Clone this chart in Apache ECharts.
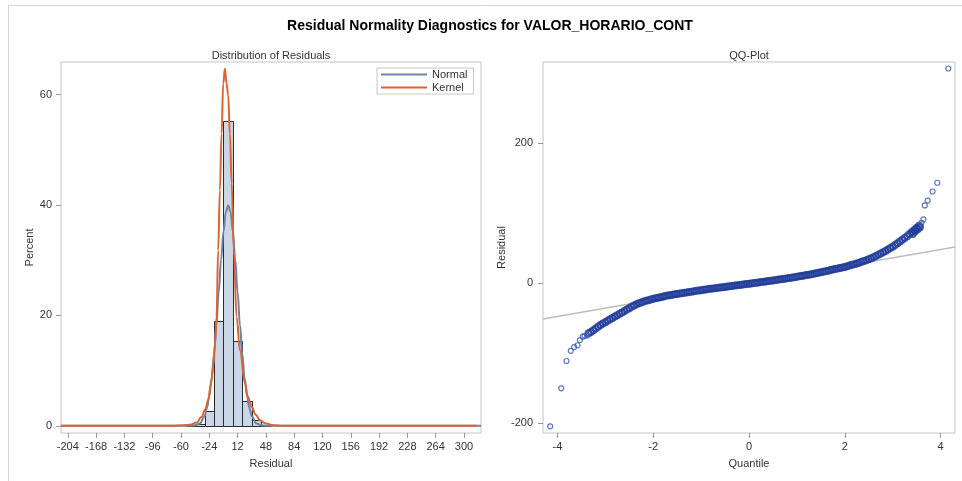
<!DOCTYPE html>
<html>
<head>
<meta charset="utf-8">
<script src="https://cdn.jsdelivr.net/npm/echarts@6/dist/echarts.min.js"></script>
<style>html,body{margin:0;padding:0;background:#fff}#c{width:962px;height:481px}</style>
</head>
<body>
<div id="c"></div>
<script>
// ---------- data ----------
var mainTitle = 'Residual Normality Diagnostics for VALOR_HORARIO_CONT';
var leftTitle = 'Distribution of Residuals';
var rightTitle = 'QQ-Plot';

// histogram (bin midpoints, percent), bin width 12
var binWidth = 12;
var binMid = [-48, -36, -24, -12, 0, 12, 24, 36, 48];
var binPct = [0.1, 0.4, 2.6, 19.0, 55.2, 15.4, 4.5, 1.0, 0.1];

// fitted normal curve
var normX = [-212.7, -60, -54, -48, -42, -36, -30, -27, -24, -21, -18, -15, -12, -9, -6, -3, 0, 3, 6, 9, 12, 15, 18, 21, 24, 27, 30, 36, 42, 48, 54, 60, 321.7];
var normY = [0, 0, 0, 0.01, 0.09, 0.44, 1.75, 3.2, 5.4, 8.6, 13.0, 18.3, 24.2, 30.1, 35.2, 38.7, 39.9, 38.7, 35.2, 30.1, 24.2, 18.3, 13.0, 8.6, 5.4, 3.2, 1.75, 0.44, 0.09, 0.01, 0, 0, 0];

// kernel density curve
var kernX = [-212.7, -70, -58, -48.6, -40, -34, -29, -25.5, -22, -19.1, -16.5, -14.8, -12.7, -10.5, -8.4, -6.3, -4.2, -2.0, 0.0, 2.2, 4.4, 7.3, 10.7, 15, 21.4, 25, 29.9, 35, 40.5, 48, 57.5, 70, 316];
var kernY = [0, 0.02, 0.1, 0.2, 0.6, 1.6, 3.0, 4.7, 7.5, 10.7, 15.0, 19.7, 31.8, 42.7, 52.9, 62.0, 64.7, 62.0, 59.9, 52.9, 43.9, 31.8, 19.7, 13.7, 7.7, 5.3, 3.4, 2.0, 1.0, 0.4, 0.1, 0.02, 0];

var histXTicks = [-204, -168, -132, -96, -60, -24, 12, 48, 84, 120, 156, 192, 228, 264, 300];
var histYTicks = [0, 20, 40, 60];

// QQ plot: sparse tail points (normal quantile, residual)
var qqTailQuantile = [-4.15, -3.92, -3.81, -3.72, -3.65, -3.58, -3.53, -3.47, -3.43, -3.38,
                      3.60, 3.64, 3.67, 3.73, 3.83, 3.93, 4.16];
var qqTailResidual = [-205, -150.7, -111.6, -97, -91.6, -89, -81.6, -76.8, -75.5, -75,
                      86, 91, 111, 118, 131, 143.5, 307];
// QQ plot: dense central band (normal quantile, residual)
var qqQuantile = [
 -3.35, -3.30, -3.25, -3.20, -3.15, -3.10, -3.05, -3.00, -2.95, -2.90,
 -2.85, -2.80, -2.75, -2.70, -2.65, -2.60, -2.55, -2.50, -2.45, -2.40,
 -2.35, -2.30, -2.25, -2.20, -2.15, -2.10, -2.05, -2.00, -1.95, -1.90,
 -1.85, -1.80, -1.75, -1.70, -1.65, -1.60, -1.55, -1.50, -1.45, -1.40,
 -1.35, -1.30, -1.25, -1.20, -1.15, -1.10, -1.05, -1.00, -0.95, -0.90,
 -0.85, -0.80, -0.75, -0.70, -0.65, -0.60, -0.55, -0.50, -0.45, -0.40,
 -0.35, -0.30, -0.25, -0.20, -0.15, -0.10, -0.05, 0.00, 0.05, 0.10,
 0.15, 0.20, 0.25, 0.30, 0.35, 0.40, 0.45, 0.50, 0.55, 0.60,
 0.65, 0.70, 0.75, 0.80, 0.85, 0.90, 0.95, 1.00, 1.05, 1.10,
 1.15, 1.20, 1.25, 1.30, 1.35, 1.40, 1.45, 1.50, 1.55, 1.60,
 1.65, 1.70, 1.75, 1.80, 1.85, 1.90, 1.95, 2.00, 2.05, 2.10,
 2.15, 2.20, 2.25, 2.30, 2.35, 2.40, 2.45, 2.50, 2.55, 2.60,
 2.65, 2.70, 2.75, 2.80, 2.85, 2.90, 2.95, 3.00, 3.05, 3.10,
 3.15, 3.20, 3.25, 3.30, 3.35, 3.40, 3.42, 3.45, 3.47, 3.50,
 3.52, 3.55, 3.57
];
var qqResidual = [
 -72, -70, -67.5, -65, -62.5, -60, -58, -56, -54, -52,
 -50, -48, -46, -44, -42, -40, -38, -36, -34, -32,
 -30.5, -29, -27.7, -26.5, -25.5, -24.5, -23.5, -22.5, -21.7, -21,
 -20.2, -19.5, -18.7, -18, -17.4, -16.8, -16.2, -15.6, -15, -14.5,
 -13.9, -13.4, -12.8, -12.3, -11.7, -11.2, -10.7, -10.2, -9.7, -9.2,
 -8.7, -8.2, -7.7, -7.3, -6.8, -6.4, -5.9, -5.5, -5, -4.6,
 -4.1, -3.7, -3.2, -2.8, -2.3, -1.9, -1.4, -1, -0.5, 0,
 0.5, 0.9, 1.4, 1.9, 2.3, 2.8, 3.3, 3.8, 4.3, 4.8,
 5.3, 5.8, 6.3, 6.8, 7.3, 7.9, 8.4, 9, 9.6, 10.2,
 10.8, 11.4, 12, 12.7, 13.4, 14.1, 14.8, 15.5, 16.2, 17,
 17.7, 18.5, 19.2, 20, 20.7, 21.5, 22.2, 23, 24, 25,
 26, 27, 28.1, 29.2, 30.3, 31.5, 32.7, 34, 35.5, 37,
 38.7, 40.5, 42.2, 44, 46, 48, 50, 52, 54.5, 57,
 59.5, 62, 64.5, 67, 70, 73, 70, 76, 74, 79,
 77, 82, 80
];
// reference line endpoints
var qqLineX = [-4.3, 4.3];
var qqLineY = [-51.5, 51.5];
var qqXTicks = [-4, -2, 0, 2, 4];
var qqYTicks = [-200, 0, 200];

// ---------- build ----------
function zip(a, b) { var r = []; for (var i = 0; i < a.length; i++) r.push([a[i], b[i]]); return r; }
var FONT = 'Liberation Sans, Arial, sans-serif';
var lblStyle = { fontSize: 11, color: '#333', fontFamily: FONT };
var nameStyle = { fontSize: 11, color: '#333', fontFamily: FONT };

function valAxis(opt) {
  return Object.assign({
    type: 'value',
    axisLine: { show: false, onZero: false },
    splitLine: { show: false },
    axisTick: { show: true, length: 5, lineStyle: { color: '#999' }, customValues: opt.ticks },
    axisLabel: Object.assign({ margin: opt.margin, customValues: opt.ticks }, lblStyle),
    nameTextStyle: nameStyle,
    nameLocation: 'middle'
  }, opt.extra);
}

var chart = echarts.init(document.getElementById('c'), null, { renderer: 'canvas' });
chart.setOption({
  backgroundColor: '#fff',
  animation: false,
  title: [
    { text: mainTitle, left: 490, top: 19, textAlign: 'center', padding: 0,
      textStyle: { fontSize: 14, fontWeight: 'bold', color: '#000', fontFamily: FONT } },
    { text: leftTitle, left: 271, top: 50, textAlign: 'center', padding: 0,
      textStyle: { fontSize: 11, fontWeight: 'normal', color: '#333', fontFamily: FONT } },
    { text: rightTitle, left: 749, top: 50, textAlign: 'center', padding: 0,
      textStyle: { fontSize: 11, fontWeight: 'normal', color: '#333', fontFamily: FONT } }
  ],
  graphic: [
    { type: 'line', shape: { x1: 8.5, y1: 5.5, x2: 962, y2: 5.5 }, style: { stroke: '#d6d6d6', lineWidth: 1 } },
    { type: 'line', shape: { x1: 8.5, y1: 5.5, x2: 8.5, y2: 481 }, style: { stroke: '#d6d6d6', lineWidth: 1 } }
  ],
  legend: {
    data: ['Normal', 'Kernel'],
    orient: 'vertical',
    left: 377, top: 68,
    icon: 'rect', itemWidth: 46, itemHeight: 2, itemGap: 2,
    padding: [1, 6, 1, 4],
    borderColor: '#c8c8c8', borderWidth: 1,
    textStyle: { fontSize: 11, color: '#333', fontFamily: FONT, lineHeight: 11 }
  },
  grid: [
    { left: 61, top: 62, width: 420, height: 371, show: true, borderColor: '#c4c4c4', borderWidth: 1, backgroundColor: 'transparent' },
    { left: 543, top: 62, width: 412, height: 371, show: true, borderColor: '#c4c4c4', borderWidth: 1, backgroundColor: 'transparent' }
  ],
  xAxis: [
    valAxis({ ticks: histXTicks, margin: 8, extra: { gridIndex: 0, min: -212.7, max: 321.7, name: 'Residual', nameGap: 25 } }),
    valAxis({ ticks: qqXTicks, margin: 8, extra: { gridIndex: 1, min: -4.3, max: 4.3, name: 'Quantile', nameGap: 25 } })
  ],
  yAxis: [
    valAxis({ ticks: histYTicks, margin: 9, extra: { gridIndex: 0, min: -1.3, max: 65.9, name: 'Percent', nameGap: 23 } }),
    valAxis({ ticks: qqYTicks, margin: 10, extra: { gridIndex: 1, min: -214.6, max: 316.3, name: 'Residual', nameGap: 30 } })
  ],
  series: [
    {
      type: 'custom', name: 'hist', xAxisIndex: 0, yAxisIndex: 0, z: 1,
      data: zip(binMid, binPct),
      renderItem: function (params, api) {
        var mid = api.value(0), h = api.value(1);
        var p0 = api.coord([mid - binWidth / 2, h]);
        var p1 = api.coord([mid + binWidth / 2, 0]);
        return { type: 'rect',
          shape: { x: Math.round(p0[0]) + 0.5, y: Math.round(p0[1]) + 0.5, width: Math.round(p1[0]) - Math.round(p0[0]), height: Math.round(p1[1]) - Math.round(p0[1]) },
          style: { fill: '#CAD5E5', stroke: '#2b2b2b', lineWidth: 1 } };
      }
    },
    {
      type: 'line', name: 'Normal', xAxisIndex: 0, yAxisIndex: 0, z: 3,
      data: zip(normX, normY), smooth: 0.4, smoothMonotone: 'x', showSymbol: false,
      color: '#6C83AA', lineStyle: { color: '#6C83AA', width: 2 }
    },
    {
      type: 'line', name: 'Kernel', xAxisIndex: 0, yAxisIndex: 0, z: 4,
      data: zip(kernX, kernY), smooth: 0.4, smoothMonotone: 'x', showSymbol: false,
      color: '#DD6431', lineStyle: { color: '#DD6431', width: 2 }
    },
    {
      type: 'line', name: 'ref', xAxisIndex: 1, yAxisIndex: 1, z: 2,
      data: zip(qqLineX, qqLineY), showSymbol: false, silent: true,
      lineStyle: { color: '#bdbdbd', width: 1.5 }
    },
    {
      type: 'scatter', name: 'qqBand', xAxisIndex: 1, yAxisIndex: 1, z: 3,
      data: zip(qqQuantile, qqResidual), symbol: 'circle', symbolSize: 6,
      itemStyle: { color: 'rgba(0,0,0,0)', borderColor: '#1F3B98', borderWidth: 2 }
    },
    {
      type: 'scatter', name: 'qqTail', xAxisIndex: 1, yAxisIndex: 1, z: 3,
      data: zip(qqTailQuantile, qqTailResidual), symbol: 'circle', symbolSize: 5,
      itemStyle: { color: 'rgba(0,0,0,0)', borderColor: '#3A55B0', borderWidth: 1.2 }
    }
  ]
});
</script>
</body>
</html>
